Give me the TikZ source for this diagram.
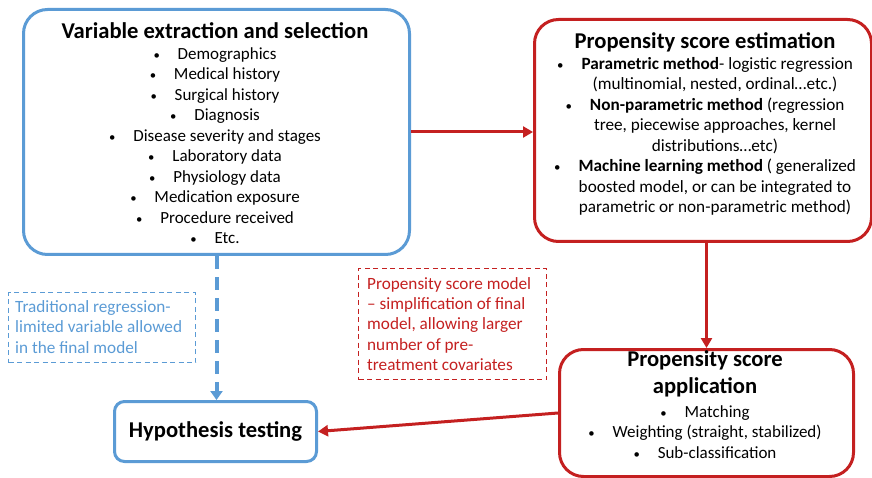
\documentclass[tikz,border=0pt]{standalone}
\usepackage{fontspec}
\setmainfont{Carlito}
\usetikzlibrary{arrows.meta}
\definecolor{bl}{RGB}{91,155,213}
\definecolor{rd}{RGB}{196,32,32}
\newcommand{\bu}{\scalebox{0.75}{\textbullet}\hspace{1.05em}}
\newcommand{\cn}{\hspace*{20pt}}
\begin{document}
\begin{tikzpicture}[x=1pt,y=-1pt,
  box/.style={line width=3pt, rounded corners=24pt, inner sep=0pt, anchor=north west},
  notebox/.style={dashed, dash pattern=on 5pt off 3.5pt, line width=1.3pt, inner sep=0pt, anchor=north west},
  ttl/.style={font=\fontsize{22.6}{24}\selectfont\bfseries, align=center},
  lst/.style={font=\fontsize{17}{20.5}\selectfont, align=center},
  nt/.style={font=\fontsize{17.2}{20.3}\selectfont, align=left, anchor=west, inner sep=0pt},
  redarrow/.style={draw=rd, line width=3pt, -{Triangle[length=10pt,width=11pt]}},
]
\useasboundingbox (0,0) rectangle (872,478);
% boxes
\node[box, draw=bl, minimum width=386pt, minimum height=245pt] (A) at (22,8) {};
\node[box, draw=rd, minimum width=337pt, minimum height=222pt] (B) at (533,18) {};
\node[box, draw=rd, minimum width=294pt, minimum height=127pt] (C) at (558,348) {};
\node[box, draw=bl, minimum width=202pt, minimum height=60pt, rounded corners=10pt] (D) at (113,400) {};
\node[notebox, draw=bl, minimum width=187pt, minimum height=70pt] (N1) at (8,292) {};
\node[notebox, draw=rd, minimum width=188pt, minimum height=111pt] (N2) at (358,268) {};
% texts
\node[ttl] (At) at (215,31) {Variable extraction and selection};
\node[lst] (Al) at (215,145.5) {\bu Demographics\\ \bu Medical history\\ \bu Surgical history\\ \bu Diagnosis\\ \bu Disease severity and stages\\ \bu Laboratory data\\ \bu Physiology data\\ \bu Medication exposure\\ \bu Procedure received\\ \bu Etc.};
\node[ttl] (Bt) at (705,42) {Propensity score estimation};
\node[lst, font=\fontsize{17.2}{20.5}\selectfont] (Bl) at (705,136.5) {\bu\textbf{Parametric method}- logistic regression\\ \cn(multinomial, nested, ordinal…etc.)\\ \bu\textbf{Non-parametric method} (regression\\ \cn tree, piecewise approaches, kernel\\ \cn distributions…etc)\\ \bu\textbf{Machine learning method} ( generalized\\ \cn boosted model, or can be integrated to\\ \cn parametric or non-parametric method)};
\node[ttl, font=\fontsize{22.6}{27}\selectfont\bfseries] (Ct) at (705,373.5) {Propensity score\\ application};
\node[lst] (Cl) at (705,432) {\bu Matching\\ \bu Weighting (straight, stabilized)\\ \bu Sub-classification};
\node[ttl] (Dt) at (D.center) {Hypothesis testing};
\node[nt, text=bl] (N1t) at (15,327) {Traditional regression-\\ limited variable allowed\\ in the final model};
\node[nt, text=rd] (N2t) at (367,324) {Propensity score model\\ – simplification of final\\ model, allowing larger\\ number of pre-\\ treatment covariates};
% connectors
\draw[redarrow] (A.east) -- (A.east -| B.west);
\draw[redarrow] (C.north |- B.south) -- (C.north);
\draw[redarrow] (C.west) -- (D.east);
\draw[draw=bl, line width=4pt, dash pattern=on 13pt off 8pt, -{Triangle[length=9pt,width=12pt]}] (A.south) -- (A.south |- D.north);
\end{tikzpicture}
\end{document}
